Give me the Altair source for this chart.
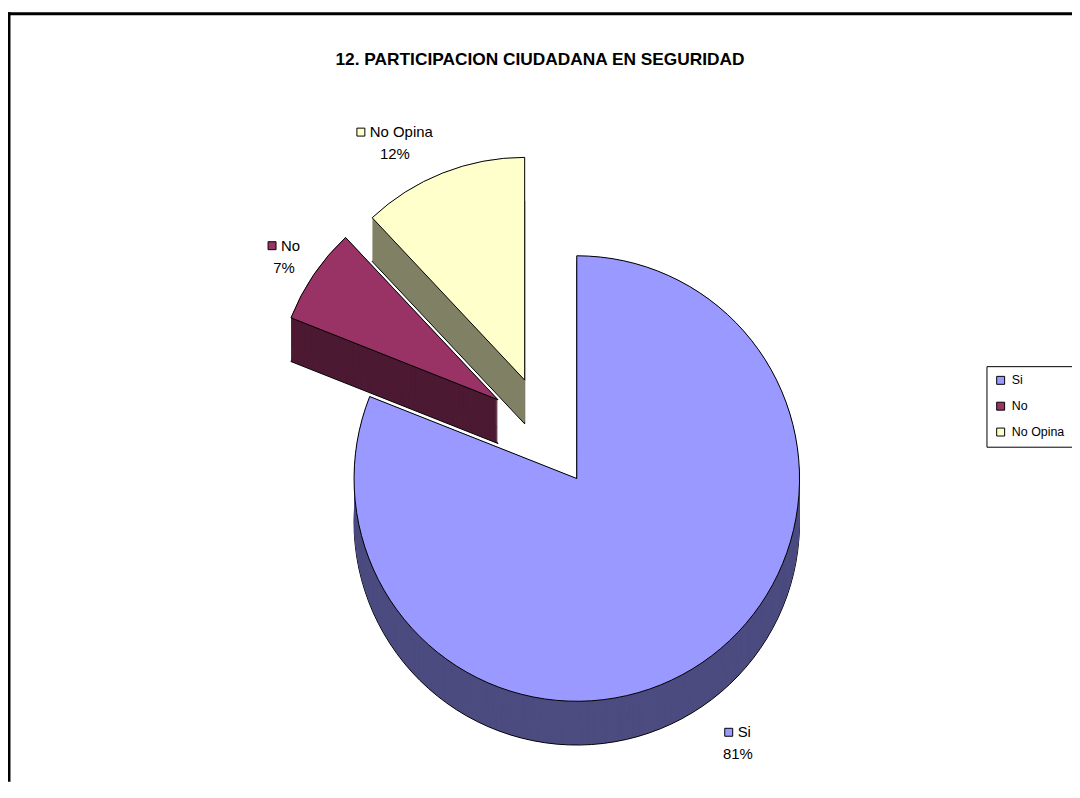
import math
import altair as alt
import pandas as pd

# ---------------- data ----------------
categories = ["Si", "No", "No Opina"]
values = [81, 7, 12]
percent_labels = ["81%", "7%", "12%"]
top_colors = ["#9999FF", "#993366", "#FFFFCC"]
side_colors = ["#4C4C80", "#4D1A33", "#808066"]
title_text = "12. PARTICIPACION CIUDADANA EN SEGURIDAD"

# ---------------- layout / style ----------------
W, H = 1070, 776
CX, CY = 572, 471          # centre of the pie top face (view pixels)
R = 224                    # pie radius
DEPTH = 44                 # 3-D thickness
EXPLODE = {"Si": 0, "No": 112, "No Opina": 112}
EXPLODE_BLEND = 0.5        # explode direction pulled toward the exploded group's centre
LABEL_R = 265
LABEL_NUDGE = {"Si": (13, 3), "No": (4, 5), "No Opina": (-33, 8)}
LABEL_FS = 15
KEY = 8
GAP = 5
FONT = "Liberation Sans"
draw_order = ["No Opina", "No", "Si"]

AW = {"N": 0.722, "o": 0.556, " ": 0.278, "O": 0.778, "p": 0.556, "i": 0.222,
      "n": 0.556, "a": 0.556, "S": 0.667}


def text_width(s, fs):
    return sum(AW.get(c, 0.556) for c in s) * fs


total = sum(values)
spans = {}
acc = 0
for cat, v in zip(categories, values):
    spans[cat] = (acc / total * 100, (acc + v) / total * 100)
    acc += v

exploded = [c for c in categories if EXPLODE[c] > 0]
grp_mid = (min(spans[c][0] for c in exploded) + max(spans[c][1] for c in exploded)) / 200 * 2 * math.pi

geo = {}
for cat in categories:
    p0, p1 = spans[cat]
    mid = (p0 + p1) / 200 * 2 * math.pi
    e = EXPLODE[cat]
    ang = mid + (grp_mid - mid) * EXPLODE_BLEND if e > 0 else mid
    geo[cat] = (p0, p1, mid, CX + e * math.sin(ang), CY - e * math.cos(ang))

side_rows, top_rows, label_rows = [], [], []
for cat in draw_order:
    i = categories.index(cat)
    p0, p1, mid, cx, cy = geo[cat]
    for d in range(DEPTH, -1, -1):
        side_rows.append(dict(cat=cat, p0=p0, p1=p1, cx=cx, cy=cy + d,
                              fill=side_colors[i], sw=1 if d == DEPTH else 0))
    top_rows.append(dict(cat=cat, p0=p0, p1=p1, cx=cx, cy=cy))
    nx, ny = LABEL_NUDGE[cat]
    lx = cx + LABEL_R * math.sin(mid) + nx
    ly = cy - LABEL_R * math.cos(mid) + (DEPTH if math.cos(mid) < 0 else 0) + ny
    whole = KEY + GAP + text_width(cat, LABEL_FS)
    label_rows.append(dict(cat=cat, line1=cat, line2=percent_labels[i], col=top_colors[i],
                           lx=lx, y1=ly - 11, y2=ly + 11,
                           kx=lx - whole / 2 + KEY / 2, tx=lx - whole / 2 + KEY + GAP))

sides = pd.DataFrame(side_rows)
tops = pd.DataFrame(top_rows)
labels = pd.DataFrame(label_rows)

theta_scale = alt.Scale(domain=[0, 100], range=[0, 2 * math.pi])

side_layer = alt.Chart(sides).mark_arc(radius=R, stroke="black").encode(
    x=alt.X("cx:Q", scale=None, axis=None),
    y=alt.Y("cy:Q", scale=None, axis=None),
    theta=alt.Theta("p0:Q", scale=theta_scale, stack=None),
    theta2="p1:Q",
    fill=alt.Fill("fill:N", scale=None),
    strokeWidth=alt.StrokeWidth("sw:Q", scale=None),
)

top_layer = alt.Chart(tops).mark_arc(radius=R, stroke="black", strokeWidth=1).encode(
    x=alt.X("cx:Q", scale=None, axis=None),
    y=alt.Y("cy:Q", scale=None, axis=None),
    theta=alt.Theta("p0:Q", scale=theta_scale, stack=None),
    theta2="p1:Q",
    color=alt.Color(
        "cat:N",
        scale=alt.Scale(domain=categories, range=top_colors),
        legend=alt.Legend(
            title=None, orient="none", legendX=984, legendY=358,
            strokeColor="black", fillColor="white", padding=8, cornerRadius=0,
            symbolType="square", symbolSize=64, symbolStrokeColor="black",
            symbolStrokeWidth=1, labelFont=FONT, labelFontSize=12.5,
            labelColor="black", rowPadding=13, labelOffset=5,
        ),
    ),
)

key_layer = alt.Chart(labels).mark_square(
    size=KEY * KEY, filled=True, stroke="black", strokeWidth=1, opacity=1
).encode(
    x=alt.X("kx:Q", scale=None, axis=None),
    y=alt.Y("y1:Q", scale=None, axis=None),
    fill=alt.Fill("col:N", scale=None),
)

line1_layer = alt.Chart(labels).mark_text(
    align="left", baseline="middle", font=FONT, fontSize=LABEL_FS, color="black"
).encode(
    x=alt.X("tx:Q", scale=None, axis=None),
    y=alt.Y("y1:Q", scale=None, axis=None),
    text="line1:N",
)

line2_layer = alt.Chart(labels).mark_text(
    align="center", baseline="middle", font=FONT, fontSize=LABEL_FS, color="black"
).encode(
    x=alt.X("lx:Q", scale=None, axis=None),
    y=alt.Y("y2:Q", scale=None, axis=None),
    text="line2:N",
)

title_layer = alt.Chart(pd.DataFrame({"t": [title_text]})).mark_text(
    align="center", baseline="middle", font=FONT, fontSize=17.4, fontWeight="bold", color="black"
).encode(x=alt.value(535), y=alt.value(50), text="t:N")

one = pd.DataFrame({"a": [0]})
frame_top = alt.Chart(one).mark_rule(color="black", strokeWidth=3).encode(
    x=alt.value(0), x2=alt.value(W), y=alt.value(3.5)
)
frame_left = alt.Chart(one).mark_rule(color="black", strokeWidth=3).encode(
    x=alt.value(1), y=alt.value(2), y2=alt.value(H)
)

chart = alt.layer(
    frame_top, frame_left, title_layer, side_layer, top_layer, key_layer, line1_layer, line2_layer
).properties(
    width=W, height=H, padding=0, autosize=alt.AutoSizeParams(type="none")
).configure_view(strokeWidth=0)

chart.save("out.html", embed_options={"renderer": "svg", "actions": False})
